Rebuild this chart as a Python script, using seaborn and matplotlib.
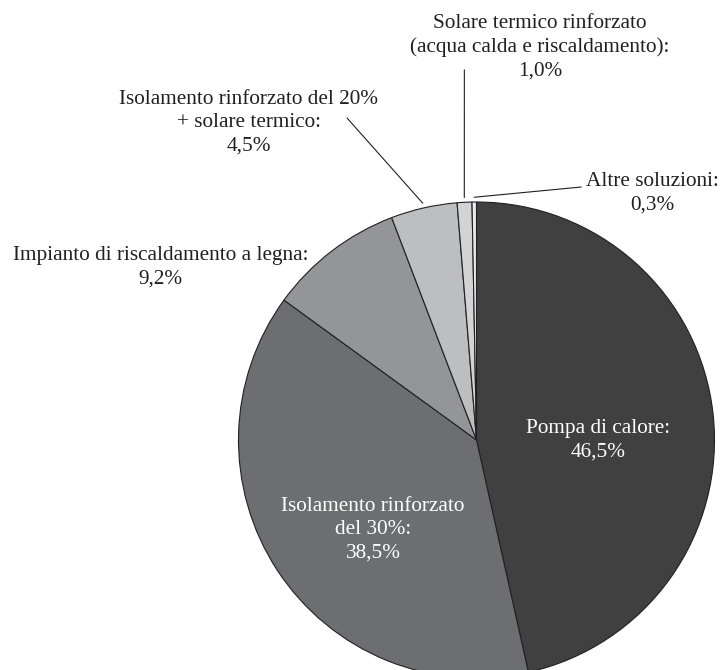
import numpy as np
import seaborn as sns
import matplotlib.pyplot as plt

# dati del grafico (quote percentuali)
categorie = [
    "Pompa di calore",
    "Isolamento rinforzato\ndel 30%",
    "Impianto di riscaldamento a legna",
    "Isolamento rinforzato del 20%\n+ solare termico",
    "Solare termico rinforzato\n(acqua calda e riscaldamento)",
    "Altre soluzioni",
]
quote = [46.5, 38.5, 9.2, 4.5, 1.0, 0.3]
colori = ["#404041", "#6d6e71", "#939598", "#bcbec0", "#d1d3d4", "#e8e9ea"]
colore_testo = ["white", "white", "#231f20", "#231f20", "#231f20", "#231f20"]

# posizione delle etichette (coordinate del grafico, raggio = 1)
pos_etichette = [(0.512, 0.0), (-0.435, -0.378), (-1.326, 0.727),
                 (-0.956, 1.332), (0.267, 1.651), (0.74, 1.038)]
# fine delle linee di richiamo (None = nessuna linea)
fine_linee = [None, None, None, (-0.544, 1.353), (-0.051, 1.555), (0.44, 1.063)]

sns.set_theme(style="white")
plt.rcParams["font.family"] = ["Liberation Serif", "DejaVu Serif"]

fig = plt.figure(figsize=(7.24, 6.70), dpi=100)
ax = fig.add_axes([238.5 / 724, -8 / 670, 476 / 724, 476 / 670])

wedges, _ = ax.pie(quote, colors=colori, startangle=90, counterclock=False,
                   radius=1, wedgeprops=dict(edgecolor="#231f20", linewidth=0.8))
ax.set_xlim(-1, 1)
ax.set_ylim(-1, 1)
ax.axis("off")

for w, cat, v, pos, fine, col in zip(wedges, categorie, quote, pos_etichette, fine_linee, colore_testo):
    testo = f"{cat}:\n{v:.1f}".replace(".", ",") + "%"
    ax.text(pos[0], pos[1], testo, ha="center", va="center", fontsize=15.3,
            color=col, linespacing=1.32, clip_on=False)
    if fine is not None:
        ang = np.deg2rad((w.theta1 + w.theta2) / 2)
        inizio = (1.02 * np.cos(ang), 1.02 * np.sin(ang))
        ax.annotate("", xy=inizio, xytext=fine, annotation_clip=False,
                    arrowprops=dict(arrowstyle="-", color="#231f20", lw=0.8,
                                    shrinkA=0, shrinkB=0))

plt.savefig("out.png", dpi=100)
plt.close()
